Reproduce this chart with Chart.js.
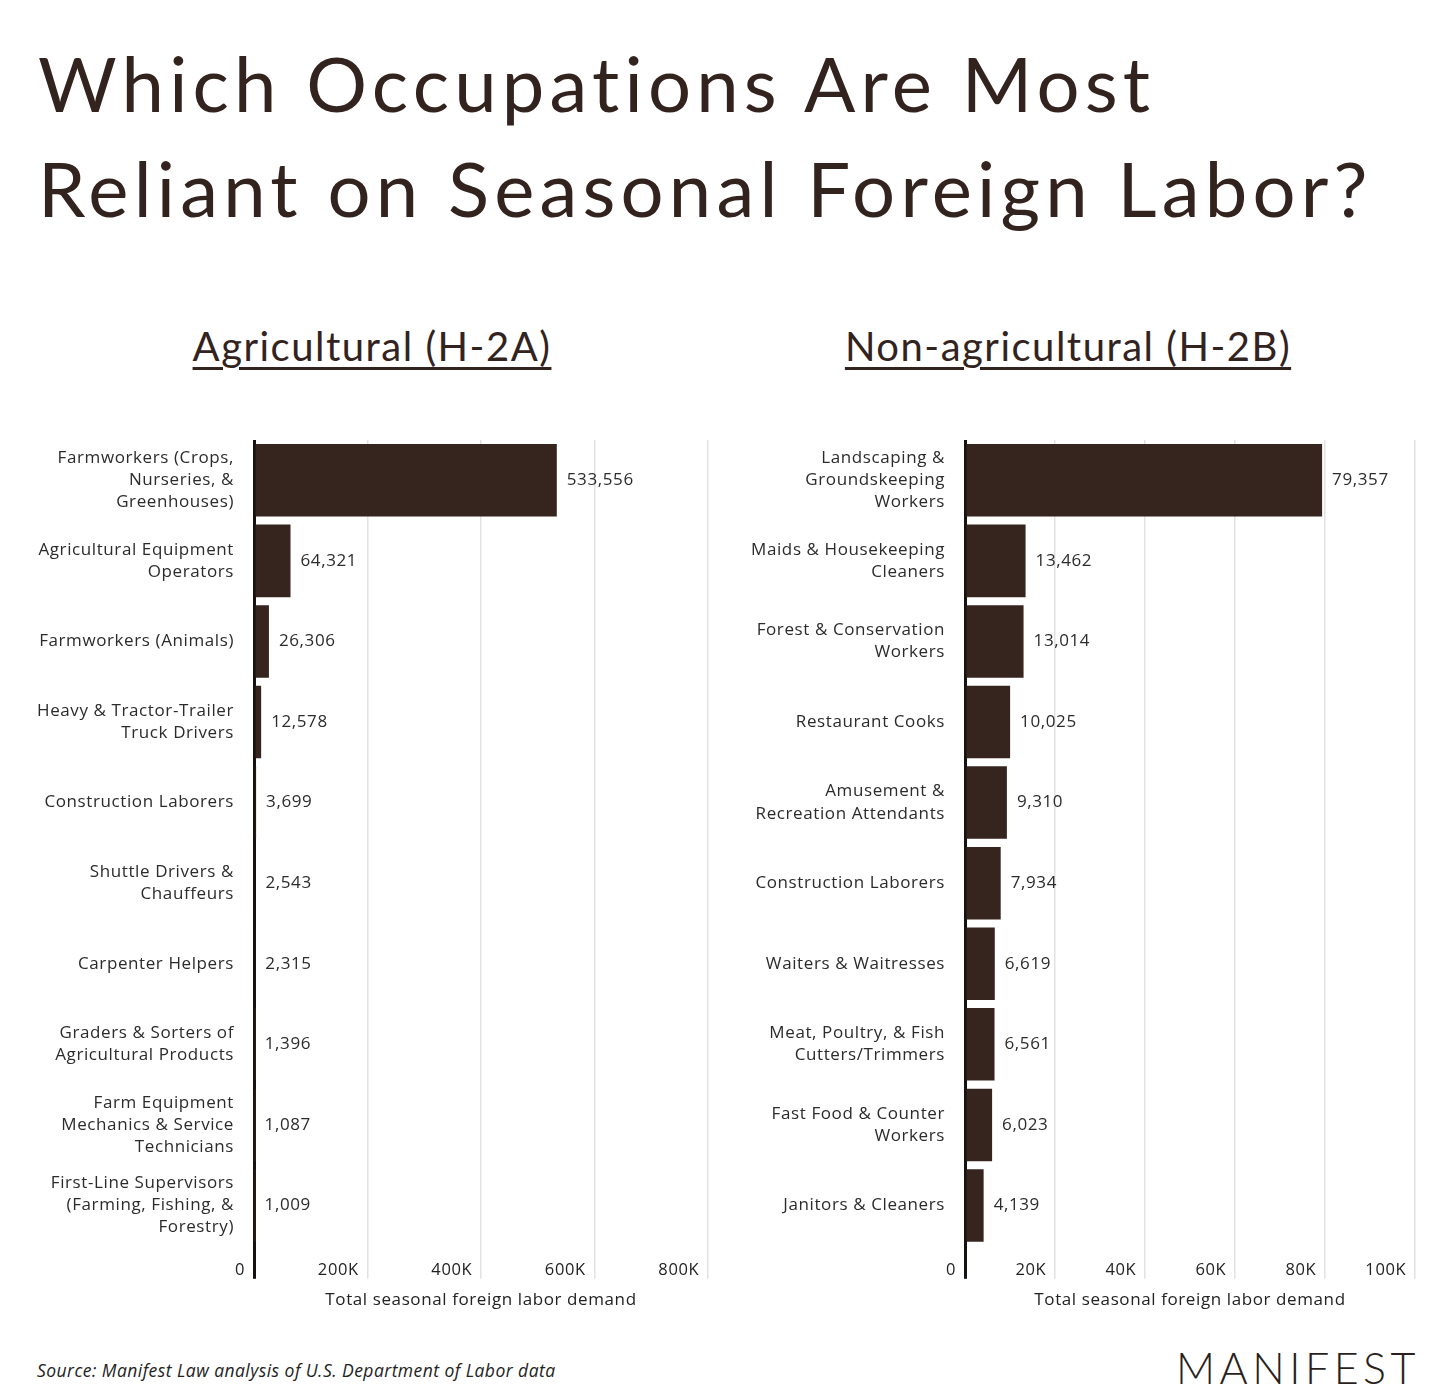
<!DOCTYPE html>
<html>
<head>
<meta charset="utf-8">
<title>Seasonal foreign labor by occupation</title>
<script src="https://cdn.jsdelivr.net/npm/chart.js@4.4.1/dist/chart.umd.min.js"></script>
<style>
  body { margin: 0; width: 1450px; height: 1400px; background: #fff; position: relative; overflow: hidden; font-family: Lato, sans-serif; color: #33231e; }
  h1 { position: absolute; left: 38px; top: 30px; margin: 0; font-weight: 400; font-size: 76px; line-height: 105px; letter-spacing: 5.2px; }
  .sub { position: absolute; top: 326px; font-size: 40px; line-height: 40px; text-decoration: underline; text-decoration-thickness: 2.5px; text-underline-offset: 6px; transform: translateX(-50%); white-space: nowrap; letter-spacing: 1.5px; }
  .box { position: absolute; top: 420px; width: 700px; height: 890px; }
  .source { position: absolute; left: 37px; top: 1358px; font-family: "Open Sans", sans-serif; font-style: italic; font-size: 17.5px; letter-spacing: 0.45px; color: #222; }
  .logo { position: absolute; right: 30px; top: 1342px; font-size: 43px; font-weight: 300; letter-spacing: 4.5px; color: #2a1f1b; }
</style>
</head>
<body>
<h1>Which Occupations Are Most<br>Reliant on Seasonal Foreign Labor?</h1>
<div class="sub" style="left:372px">Agricultural (H-2A)</div>
<div class="sub" style="left:1068px">Non-agricultural (H-2B)</div>
<div class="box" style="left:20px"><canvas id="agChart"></canvas></div>
<div class="box" style="left:730px"><canvas id="nonAgChart"></canvas></div>
<div class="source">Source: Manifest Law analysis of U.S. Department of Labor data</div>
<div class="logo">MANIFEST</div>
<script>
// H-2A (agricultural)
var agLabels = [
  ["Farmworkers (Crops,", "Nurseries, &", "Greenhouses)"],
  ["Agricultural Equipment", "Operators"],
  "Farmworkers (Animals)",
  ["Heavy & Tractor-Trailer", "Truck Drivers"],
  "Construction Laborers",
  ["Shuttle Drivers &", "Chauffeurs"],
  "Carpenter Helpers",
  ["Graders & Sorters of", "Agricultural Products"],
  ["Farm Equipment", "Mechanics & Service", "Technicians"],
  ["First-Line Supervisors", "(Farming, Fishing, &", "Forestry)"]
];
var agValues = [533556, 64321, 26306, 12578, 3699, 2543, 2315, 1396, 1087, 1009];
var agTicks = [0, 200000, 400000, 600000, 800000];

// H-2B (non-agricultural)
var nonAgLabels = [
  ["Landscaping &", "Groundskeeping", "Workers"],
  ["Maids & Housekeeping", "Cleaners"],
  ["Forest & Conservation", "Workers"],
  "Restaurant Cooks",
  ["Amusement &", "Recreation Attendants"],
  "Construction Laborers",
  "Waiters & Waitresses",
  ["Meat, Poultry, & Fish", "Cutters/Trimmers"],
  ["Fast Food & Counter", "Workers"],
  "Janitors & Cleaners"
];
var nonAgValues = [79357, 13462, 13014, 10025, 9310, 7934, 6619, 6561, 6023, 4139];
var nonAgTicks = [0, 20000, 40000, 60000, 80000, 100000];

var barColor = '#36241f';
var textColor = '#2b2b2b';
var chartFont = '"Open Sans", sans-serif';

// the labels in the original are slightly tracked out
var tracking = {
    id: 'tracking',
    beforeUpdate: function(chart) { chart.ctx.letterSpacing = '0.6px'; },
    beforeDraw: function(chart) { chart.ctx.letterSpacing = '0.6px'; }
};

// value labels at the end of each bar
var valueLabels = {
    id: 'valueLabels',
    afterDatasetsDraw: function(chart) {
        var ctx = chart.ctx;
        var meta = chart.getDatasetMeta(0);
        var data = chart.data.datasets[0].data;
        ctx.save();
        ctx.font = '17px ' + chartFont;
        ctx.fillStyle = textColor;
        ctx.textAlign = 'left';
        ctx.textBaseline = 'middle';
        meta.data.forEach(function(bar, i) {
            ctx.fillText(data[i].toLocaleString('en-US'), bar.x + 10, bar.y);
        });
        ctx.restore();
    }
};

function makeChart(id, labels, values, ticks, yWidth, padRight) {
    var ctx = document.getElementById(id).getContext('2d');
    return new Chart(ctx, {
        type: 'bar',
        data: {
            labels: labels,
            datasets: [{
                data: values,
                backgroundColor: barColor,
                barPercentage: 0.9,
                categoryPercentage: 1
            }]
        },
        options: {
            indexAxis: 'y',
            responsive: true,
            maintainAspectRatio: false,
            animation: false,
            layout: { padding: { top: 20, right: padRight, bottom: 0, left: 0 } },
            plugins: { legend: { display: false }, tooltip: { enabled: false } },
            scales: {
                y: {
                    grid: { display: false, drawTicks: true, tickLength: 20 },
                    border: { display: false },
                    afterFit: function(scale) {
                        scale.width = yWidth;
                        scale.paddingTop = 0;
                        scale.paddingBottom = 0;
                    },
                    ticks: {
                        color: textColor,
                        padding: 0,
                        font: { family: chartFont, size: 17, lineHeight: 1.3 }
                    }
                },
                x: {
                    min: ticks[0],
                    max: ticks[ticks.length - 1],
                    afterBuildTicks: function(scale) {
                        scale.ticks = ticks.map(function(v) { return { value: v }; });
                    },
                    border: { display: false },
                    grid: {
                        tickLength: 33,
                        color: function(c) { return c.tick && c.tick.value === 0 ? '#161210' : '#e2e2e2'; },
                        lineWidth: function(c) { return c.tick && c.tick.value === 0 ? 3 : 1.5; }
                    },
                    ticks: {
                        align: 'end',
                        padding: -18,
                        color: '#222',
                        font: { family: chartFont, size: 16.5 },
                        callback: function(v) {
                            var s = v === 0 ? '0' : (v / 1000) + 'K';
                            return s + '\u2002';
                        }
                    },
                    title: {
                        display: true,
                        text: 'Total seasonal foreign labor demand',
                        color: '#222',
                        font: { family: chartFont, size: 17 },
                        padding: { top: 27, bottom: 0 }
                    }
                }
            }
        },
        plugins: [tracking, valueLabels]
    });
}

makeChart('agChart', agLabels, agValues, agTicks, 234, 12);
makeChart('nonAgChart', nonAgLabels, nonAgValues, nonAgTicks, 235, 15);
</script>
</body>
</html>
